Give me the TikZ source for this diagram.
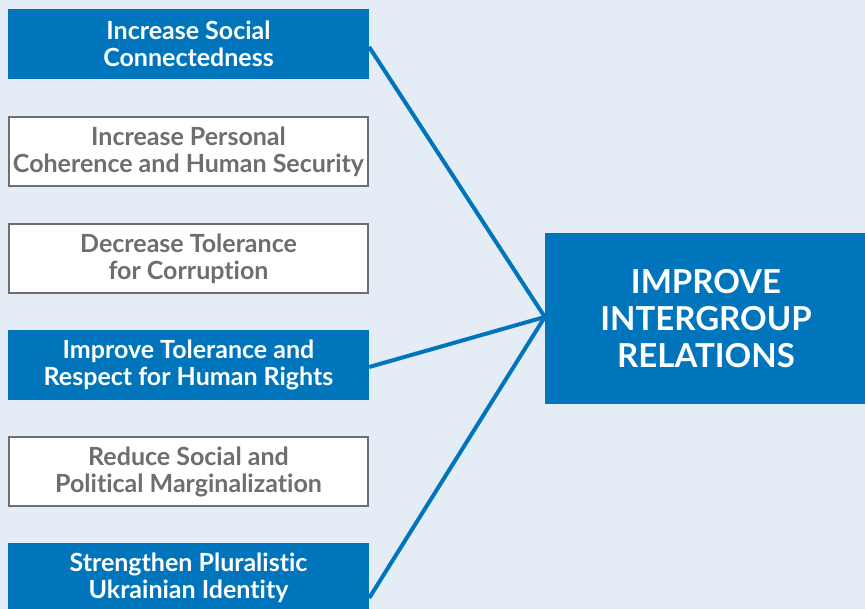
\documentclass[tikz,border=0pt]{standalone}
\usepackage{fontspec}
\setmainfont{Lato}[Ligatures={NoCommon,NoRequired,NoContextual}]
\definecolor{bg}{HTML}{E4ECF6}
\definecolor{mblue}{HTML}{0075BC}
\definecolor{mgray}{HTML}{6D6E71}
\begin{document}
\begin{tikzpicture}[x=1pt,y=-1pt,
  base/.style={minimum width=361pt,minimum height=70pt,inner sep=0pt,align=center,
    font=\fontsize{25}{27}\selectfont\bfseries},
  bluebox/.style={base,fill=mblue,text=white},
  whitebox/.style={base,fill=white,draw=mgray,line width=2pt,text=mgray,minimum width=359pt,minimum height=69pt},
  goalbox/.style={minimum width=322pt,minimum height=171pt,inner sep=0pt,align=center,fill=mblue,text=white,
    font=\fontsize{33}{37}\selectfont\bfseries},
  link/.style={draw=mblue,line width=4pt}]
\path[use as bounding box,fill=bg] (0,0) rectangle (865,609);
\begin{scope}
\clip (0,0) rectangle (865,609);
\node[bluebox]  (b1) at (188.5,44) {Increase Social\\Connectedness};
\node[whitebox] (b2) at (188.5,151.5) {Increase Personal\\Coherence and Human Security};
\node[whitebox] (b3) at (188.5,258.5) {Decrease Tolerance\\for Corruption};
\node[bluebox]  (b4) at (188.5,365) {Improve Tolerance and\\Respect for Human Rights};
\node[whitebox] (b5) at (188.5,471.5) {Reduce Social and\\Political Marginalization};
\node[bluebox]  (b6) at (188.5,578) {Strengthen Pluralistic\\Ukrainian Identity};
\node[goalbox]  (g) at (706,318.5) {IMPROVE\\INTERGROUP\\RELATIONS};
\draw[link] ([yshift=-3pt]b1.east) -- ([yshift=1.5pt]g.west);
\draw[link] ([yshift=-2pt]b4.east) -- ([yshift=1.5pt]g.west);
\draw[link] ([yshift=-20pt]b6.east) -- ([yshift=1.5pt]g.west);
\end{scope}
\end{tikzpicture}
\end{document}
